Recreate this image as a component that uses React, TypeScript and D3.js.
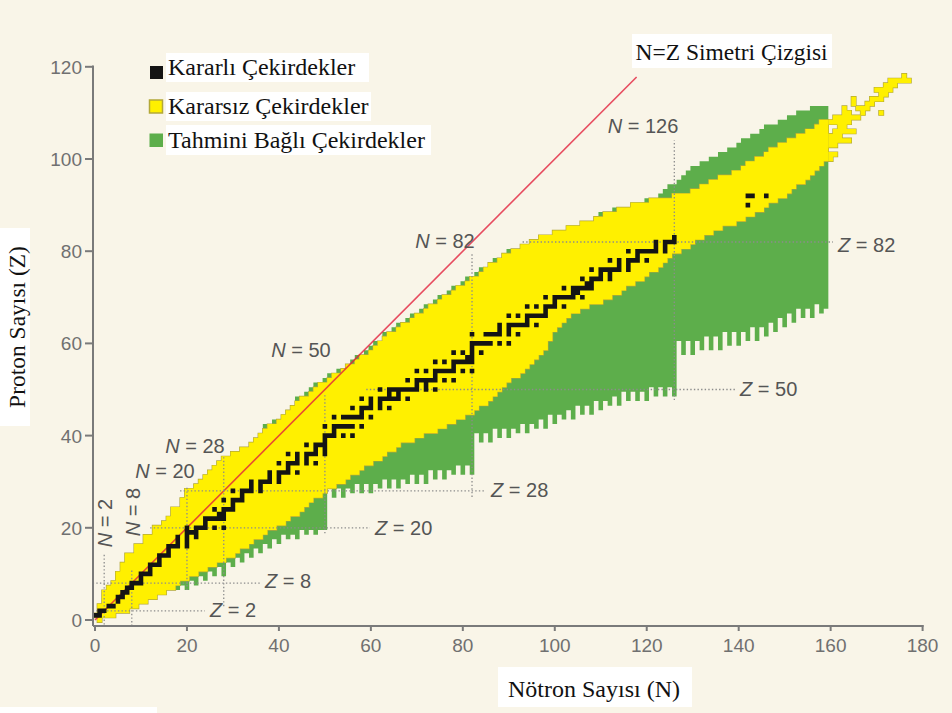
import React from 'react';
import * as d3 from 'd3';

// ---- data ----
// yellow (known, unstable) band: lowest / highest neutron number for each Z (index = Z)
const knownMinN = [
  1, 0, 1, 1, 2, 2, 2, 3, 4, 5,
  5, 6, 6, 7, 7, 9, 9, 11, 11, 13,
  13, 15, 16, 17, 17, 19, 19, 20, 20, 22,
  23, 24, 25, 26, 27, 28, 30, 32, 34, 35,
  36, 37, 38, 40, 41, 42, 43, 44, 45, 47,
  48, 49, 51, 52, 54, 55, 57, 58, 60, 61,
  62, 63, 64, 66, 67, 69, 70, 72, 73, 75,
  76, 78, 79, 81, 82, 84, 85, 86, 88, 89,
  91, 93, 95, 97, 100, 103, 106, 109, 111, 114,
  117, 121, 126, 130, 132, 134, 136, 139, 141, 142,
  144, 146, 147, 149, 151, 153, 155, 157, 158,
];
const knownMaxN = [
  1, 4, 7, 9, 11, 13, 15, 17, 18, 20,
  22, 24, 26, 28, 30, 31, 33, 34, 36, 37,
  39, 41, 42, 44, 45, 46, 47, 49, 50, 52,
  54, 55, 57, 58, 60, 62, 63, 65, 66, 69,
  71, 74, 76, 78, 80, 82, 83, 85, 86, 87,
  88, 89, 90, 92, 93, 94, 95, 96, 97, 98,
  98, 99, 99, 100, 101, 102, 103, 105, 107, 110,
  112, 114, 115, 117, 119, 120, 122, 123, 124, 125,
  127, 129, 130, 132, 134, 136, 139, 141, 143, 145,
  146, 148, 150, 151, 152, 154, 155, 156, 157, 158,
  159, 159, 159, 159, 159, 159, 159, 159, 159,
];
// green (predicted bound) region: left edge for each Z (index = Z)
const greenMinN = [
  1, 0, 1, 1, 2, 2, 2, 3, 4, 5,
  5, 6, 6, 7, 7, 9, 9, 11, 11, 13,
  13, 15, 16, 17, 17, 19, 19, 20, 20, 22,
  23, 24, 25, 26, 27, 28, 30, 32, 34, 35,
  36, 37, 37, 39, 41, 42, 43, 44, 44, 46,
  47, 48, 50, 51, 53, 55, 56, 57, 59, 60,
  61, 63, 63, 65, 66, 68, 69, 71, 72, 74,
  75, 77, 78, 80, 81, 83, 84, 86, 87, 89,
  90, 93, 95, 97, 100, 103, 106, 109, 110, 113,
  117, 120, 123, 124, 125, 127, 128, 129, 130, 132,
  134, 136, 138, 140, 141, 143, 145, 146, 149, 151,
  153, 156,
];
// green region: lowest Z for each neutron number, from N = 17 to N = 159
const greenFirstN = 17;
const greenBottomZ = [
  7, 7, 8, 7, 9, 8, 10, 9, 11, 10,
  12, 10, 13, 12, 14, 13, 15, 14, 16, 15,
  17, 16, 18, 17, 19, 18, 19, 18, 20, 19,
  20, 19, 20, 20,
  29, 27, 29, 27, 29, 28, 30, 28, 30, 28,
  30, 29, 31, 29, 31, 29, 31, 30, 32, 30,
  32, 30, 33, 31, 33, 31, 33, 32, 34, 32, 34, 32,
  41, 39, 41, 39, 42, 40, 42, 40, 42, 41,
  43, 41, 43, 42, 44, 42, 45, 43, 45, 44,
  46, 44, 47, 45, 47, 45, 48, 46, 48, 47,
  49, 47, 50, 48, 50, 48, 50, 48, 51, 49, 51, 49, 51, 49,
  61, 58, 61, 58, 61, 59, 62, 59, 62, 59,
  63, 60, 63, 60, 63, 61, 64, 61, 64, 62,
  65, 63, 66, 64, 67, 65, 68, 66, 68, 66, 69, 67, 68,
];
// stable nuclides: [Z, list of N]
const stableNuclides: [number, number[]][] = [
  [1, [0, 1]], [2, [1, 2]], [3, [3, 4]], [4, [5]], [5, [5, 6]], [6, [6, 7]],
  [7, [7, 8]], [8, [8, 9, 10]], [9, [10]], [10, [10, 11, 12]], [11, [12]],
  [12, [12, 13, 14]], [13, [14]], [14, [14, 15, 16]], [15, [16]],
  [16, [16, 17, 18, 20]], [17, [18, 20]], [18, [18, 20, 22]], [19, [20, 21, 22]],
  [20, [20, 22, 23, 24, 26, 28]], [21, [24]], [22, [24, 25, 26, 27, 28]],
  [23, [27, 28]], [24, [26, 28, 29, 30]], [25, [30]], [26, [28, 30, 31, 32]],
  [27, [32]], [28, [30, 32, 33, 34, 36]], [29, [34, 36]], [30, [34, 36, 37, 38, 40]],
  [31, [38, 40]], [32, [38, 40, 41, 42, 44]], [33, [42]], [34, [40, 42, 43, 44, 46, 48]],
  [35, [44, 46]], [36, [42, 44, 46, 47, 48, 50]], [37, [48, 50]], [38, [46, 48, 49, 50]],
  [39, [50]], [40, [50, 51, 52, 54, 56]], [41, [52]], [42, [50, 52, 53, 54, 55, 56, 58]],
  [44, [52, 54, 55, 56, 57, 58, 60]], [45, [58]], [46, [56, 58, 59, 60, 62, 64]],
  [47, [60, 62]], [48, [58, 60, 62, 63, 64, 65, 66, 68]], [49, [64, 66]],
  [50, [62, 64, 65, 66, 67, 68, 69, 70, 72, 74]], [51, [70, 72]],
  [52, [68, 70, 71, 72, 73, 74, 76, 78]], [53, [74]],
  [54, [70, 72, 74, 75, 76, 77, 78, 80, 82]], [55, [78]],
  [56, [74, 76, 78, 79, 80, 81, 82]], [57, [81, 82]], [58, [78, 80, 82, 84]], [59, [82]],
  [60, [82, 83, 84, 85, 86, 88, 90]], [62, [82, 85, 86, 87, 88, 90, 92]], [63, [88, 90]],
  [64, [88, 90, 91, 92, 93, 94, 96]], [65, [94]], [66, [90, 92, 94, 95, 96, 97, 98]],
  [67, [98]], [68, [94, 96, 98, 99, 100, 102]], [69, [100]],
  [70, [98, 100, 101, 102, 103, 104, 106]], [71, [104, 105]],
  [72, [102, 104, 105, 106, 107, 108]], [73, [107, 108]], [74, [106, 108, 109, 110, 112]],
  [75, [110, 112]], [76, [108, 110, 111, 112, 113, 114, 116]], [77, [114, 116]],
  [78, [112, 114, 116, 117, 118, 120]], [79, [118]], [80, [116, 118, 119, 120, 121, 122, 124]],
  [81, [122, 124]], [82, [122, 124, 125, 126]], [83, [126]], [90, [142]], [92, [142, 143, 146]],
];
// scattered known super-heavy cells beyond the main band: [Z, firstN, lastN]
const heavyFringe: [number, number, number][] = [
  [118, 176, 176], [117, 173, 177], [116, 172, 174], [115, 170, 173], [114, 171, 172],
  [113, 169, 171], [113, 165, 165], [112, 165, 165], [112, 168, 169], [111, 166, 168],
  [111, 163, 163], [110, 171, 171], [110, 163, 164], [110, 167, 167], [109, 161, 166],
  [108, 160, 164], [107, 162, 163], [106, 161, 165], [105, 160, 162], [104, 160, 164],
  [103, 160, 161], [101, 160, 161], [100, 160, 160],
];
const xTicks = [0, 20, 40, 60, 80, 100, 120, 140, 160, 180];
const yTicks = [0, 20, 40, 60, 80, 100, 120];
// magic numbers with their dotted guide extents (in Z for N lines, in N for Z lines)
const magicNLines: [number, number, number][] = [
  [2, -1, 14.5], [8, -1.3, 11], [20, 6.5, 28.9], [28, 3, 35.4],
  [50, 18.8, 49.2], [82, 26.7, 79.8], [126, 47.7, 104],
];
const magicZLines: [number, number, number][] = [
  [2, -0.5, 23.9], [8, -0.5, 36.3], [20, 12, 59.8], [28, 18.5, 85],
  [50, 59, 139.2], [82, 93, 160.5],
];
const legendItems = ['Kararlı Çekirdekler', 'Kararsız Çekirdekler', 'Tahmini Bağlı Çekirdekler'];

const BG = '#f9f5e8';
const YELLOW = '#fff000';
const YEDGE = '#b3a838';
const GREEN = '#5dae4b';
const BLACK = '#141414';
const SANS = '"Liberation Sans", Arial, Helvetica, sans-serif';
const SERIF = '"Liberation Serif", "Times New Roman", serif';

type Run = { z: number; n0: number; n1: number };

export default function App() {
  const x = d3.scaleLinear().domain([0, 180]).range([95, 922.6]);
  const y = d3.scaleLinear().domain([0, 120]).range([620, 66.8]);
  const ch = y(0) - y(1);
  const cx = (n: number) => x(n - 0.5);
  const cy = (z: number) => y(z + 0.5);

  const runsPath = (runs: Run[]) => {
    const p = d3.path();
    runs.forEach((r) => {
      const x0 = cx(r.n0);
      const w = cx(r.n1 + 1) - x0;
      p.rect(x0, cy(r.z), w, ch);
    });
    return p.toString();
  };

  const lastGreenN = greenFirstN + greenBottomZ.length - 1;
  const greenRuns: Run[] = [];
  greenMinN.forEach((minN, z) => {
    let start: number | null = null;
    for (let n = Math.max(minN, greenFirstN); n <= lastGreenN + 1; n++) {
      const ok = n <= lastGreenN && z >= greenBottomZ[n - greenFirstN];
      if (ok && start === null) start = n;
      if (!ok && start !== null) {
        greenRuns.push({ z, n0: start, n1: n - 1 });
        start = null;
      }
    }
  });
  const yellowRuns: Run[] = knownMinN.map((mn, z) => ({ z, n0: mn, n1: knownMaxN[z] }));
  const fringeRuns: Run[] = heavyFringe.map(([z, n0, n1]) => ({ z, n0, n1 }));
  const stableRuns: Run[] = [];
  stableNuclides.forEach(([z, ns]) => ns.forEach((n) => stableRuns.push({ z, n0: n, n1: n })));

  const greenD = runsPath(greenRuns);
  const yellowD = runsPath(yellowRuns);
  const fringeD = runsPath(fringeRuns);
  const stableD = runsPath(stableRuns);

  const magicLabel = (sym: string, val: number) => (
    <>
      <tspan fontStyle="italic">{sym}</tspan>
      {` = ${val}`}
    </>
  );

  return (
    <svg
      width={952}
      height={713}
      style={{ position: 'absolute', left: 0, top: 0, display: 'block' }}
      xmlns="http://www.w3.org/2000/svg"
    >
      <rect x={0} y={0} width={952} height={713} fill={BG} />

      {/* predicted bound region */}
      <path d={greenD} fill={GREEN} />

      {/* known unstable region: outline pass then fill pass */}
      <path d={yellowD} fill={YELLOW} stroke={YEDGE} strokeWidth={1.3} />
      <path d={fringeD} fill={YELLOW} stroke={YEDGE} strokeWidth={1.3} />
      <path d={yellowD} fill={YELLOW} />
      <path d={fringeD} fill={YELLOW} />

      {/* N = Z line */}
      <line
        x1={x(0)}
        y1={y(0)}
        x2={x(117.8)}
        y2={y(117.8)}
        stroke="#e2213c"
        strokeOpacity={0.8}
        strokeWidth={1.6}
      />

      {/* magic number guides */}
      <g stroke="#8c8c8c" strokeWidth={1.3} strokeDasharray="1.4 2.2" fill="none">
        {magicNLines.map(([n, z0, z1]) => (
          <line key={'n' + n} x1={x(n)} x2={x(n)} y1={y(z0)} y2={y(z1)} />
        ))}
        {magicZLines.map(([z, n0, n1]) => (
          <line key={'z' + z} x1={x(n0)} x2={x(n1)} y1={y(z)} y2={y(z)} />
        ))}
      </g>

      {/* stable nuclides */}
      <path d={stableD} fill={BLACK} />

      {/* axes */}
      <g stroke="#7a7a7a" strokeWidth={2} fill="none">
        <line x1={93} y1={626} x2={923.5} y2={626} />
        <line x1={93} y1={626} x2={93} y2={65.5} />
        {xTicks.map((t) => (
          <line key={'xt' + t} x1={x(t)} x2={x(t)} y1={625} y2={631} />
        ))}
        {yTicks.map((t) => (
          <line key={'yt' + t} x1={85} x2={93} y1={y(t)} y2={y(t)} />
        ))}
      </g>
      <g fontFamily={SANS} fontSize={19} fill="#707070">
        {xTicks.map((t) => (
          <text key={'xl' + t} x={x(t)} y={652} textAnchor="middle">
            {t}
          </text>
        ))}
        {yTicks.map((t) => (
          <text key={'yl' + t} x={82} y={y(t) + 7} textAnchor="end">
            {t}
          </text>
        ))}
      </g>

      {/* magic number labels */}
      <g fontFamily={SANS} fontSize={20} fill="#555">
        <text x={643} y={133} textAnchor="middle">{magicLabel('N', 126)}</text>
        <text x={445} y={248} textAnchor="middle">{magicLabel('N', 82)}</text>
        <text x={301} y={357} textAnchor="middle">{magicLabel('N', 50)}</text>
        <text x={195} y={453} textAnchor="middle">{magicLabel('N', 28)}</text>
        <text x={165} y={478} textAnchor="middle">{magicLabel('N', 20)}</text>
        <text x={112} y={523} textAnchor="middle" transform="rotate(-90 112 523)">
          {magicLabel('N', 2)}
        </text>
        <text x={140} y={512} textAnchor="middle" transform="rotate(-90 140 512)">
          {magicLabel('N', 8)}
        </text>
        <text x={838} y={252}>{magicLabel('Z', 82)}</text>
        <text x={740} y={396}>{magicLabel('Z', 50)}</text>
        <text x={491} y={497}>{magicLabel('Z', 28)}</text>
        <text x={375} y={535}>{magicLabel('Z', 20)}</text>
        <text x={265} y={588}>{magicLabel('Z', 8)}</text>
        <text x={210} y={617}>{magicLabel('Z', 2)}</text>
      </g>

      {/* legend */}
      <rect x={166} y={53} width={203} height={29} fill="#fff" />
      <rect x={166} y={92} width={205} height={29} fill="#fff" />
      <rect x={166} y={125} width={265} height={30} fill="#fff" />
      <rect x={150} y={66} width={13} height={13} fill={BLACK} />
      <rect x={149.5} y={100} width={13} height={13} fill={YELLOW} stroke={YEDGE} strokeWidth={1.5} />
      <rect x={149.5} y={133.5} width={13.5} height={13.5} fill={GREEN} />
      <g fontFamily={SERIF} fontSize={24} fill="#111">
        <text x={168} y={75}>{legendItems[0]}</text>
        <text x={168} y={114}>{legendItems[1]}</text>
        <text x={168} y={147.5}>{legendItems[2]}</text>
      </g>

      {/* titles */}
      <rect x={632} y={34} width={200} height={34} fill="#fff" />
      <text x={635.5} y={59.5} fontFamily={SERIF} fontSize={23.5} fill="#111">
        N=Z Simetri Çizgisi
      </text>
      <rect x={498} y={667} width={194} height={40} fill="#fff" />
      <text x={508} y={696.5} fontFamily={SERIF} fontSize={24} fill="#111">
        Nötron Sayısı (N)
      </text>
      <rect x={0} y={228} width={30} height={198} fill="#fff" />
      <text
        x={25}
        y={327}
        textAnchor="middle"
        transform="rotate(-90 25 327)"
        fontFamily={SERIF}
        fontSize={23.5}
        fill="#111"
      >
        Proton Sayısı (Z)
      </text>
      <rect x={0} y={707} width={157} height={6} fill="#fff" />
    </svg>
  );
}
